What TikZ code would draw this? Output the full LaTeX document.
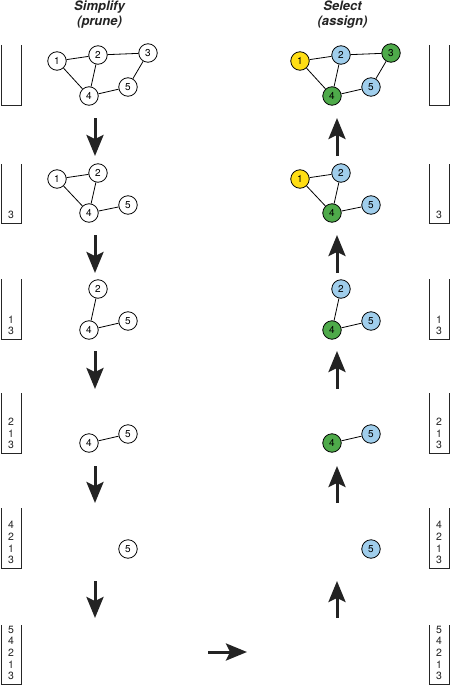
\documentclass[tikz,border=0pt]{standalone}
\usepackage{fontspec}
\setmainfont{TeX Gyre Heros}
\usetikzlibrary{arrows.meta}
\definecolor{vyellow}{RGB}{255,222,20}
\definecolor{vblue}{RGB}{160,206,236}
\definecolor{vgreen}{RGB}{78,170,74}
\definecolor{inkgray}{RGB}{35,35,35}
\tikzset{
  v/.style={circle, draw=black, line width=0.8pt, minimum size=18.5pt, inner sep=0pt,
            fill=white, font=\fontsize{10}{10}\selectfont},
  vy/.style={v, fill=vyellow},
  vb/.style={v, fill=vblue},
  vg/.style={v, fill=vgreen},
  edge/.style={line width=0.8pt, draw=black},
  bigarrow/.style={line width=3pt, draw=inkgray,
                   -{Stealth[length=21pt,width=17pt,inset=4pt]}},
  stackline/.style={line width=0.8pt, draw=black!85},
  stacknum/.style={inner sep=0pt, text=inkgray, font=\fontsize{10.5}{10.5}\selectfont},
  ttl/.style={inner sep=0pt, anchor=base, text=inkgray,
              font=\fontsize{13}{15}\selectfont\bfseries\itshape}
}
\begin{document}
\begin{tikzpicture}[x=1pt,y=-1pt]
\useasboundingbox (0,0) rectangle (450,685);

% titles
\node[ttl] (t1) at (99.5,11) {Simplify};
\node[ttl] (t2) at (99.5,26) {(prune)};
\node[ttl] (t3) at (342.5,11) {Select};
\node[ttl] (t4) at (342.5,26) {(assign)};

% stacks
\foreach \top/\bot in {45/105,164/223,279/339,393/453,508/568,625/684}{
  \draw[stackline] (1,\top) -- (1,\bot) -- (21,\bot) -- (21,\top);
  \draw[stackline] (429,\top) -- (429,\bot) -- (449,\bot) -- (449,\top);
}
\foreach \r/\bot/\items in {2/223/{3}, 3/339/{3,1}, 4/453/{3,1,2}, 5/568/{3,1,2,4}, 6/684/{3,1,2,4,5}}{
  \foreach \d [count=\k] in \items{
    \node[stacknum] (SL\r-\k) at (11,\bot-8-11.6*\k+11.6) {\d};
    \node[stacknum] (SR\r-\k) at (439,\bot-8-11.6*\k+11.6) {\d};
  }
}

% ---------- left column (simplify) ----------
% row 1
\node[v] (a1) at (57,61) {1};
\node[v] (a2) at (98,55) {2};
\node[v] (a3) at (148,53) {3};
\node[v] (a4) at (89,96) {4};
\node[v] (a5) at (128,87) {5};
\draw[edge] (a1) -- (a2); \draw[edge] (a1) -- (a4); \draw[edge] (a2) -- (a4);
\draw[edge] (a2) -- (a3); \draw[edge] (a3) -- (a5); \draw[edge] (a4) -- (a5);
% row 2
\node[v] (b1) at (57,179) {1};
\node[v] (b2) at (98,173) {2};
\node[v] (b4) at (89,213) {4};
\node[v] (b5) at (128,205) {5};
\draw[edge] (b1) -- (b2); \draw[edge] (b1) -- (b4); \draw[edge] (b2) -- (b4);
\draw[edge] (b4) -- (b5);
% row 3
\node[v] (c2) at (98,289) {2};
\node[v] (c4) at (89,330) {4};
\node[v] (c5) at (128,321) {5};
\draw[edge] (c2) -- (c4); \draw[edge] (c4) -- (c5);
% row 4
\node[v] (d4) at (89,443) {4};
\node[v] (d5) at (128,434) {5};
\draw[edge] (d4) -- (d5);
% row 5
\node[v] (e5) at (128,549) {5};

% ---------- right column (select) ----------
\node[vy] (A1) at (300,61) {1};
\node[vb] (A2) at (341,55) {2};
\node[vg] (A3) at (391,53) {3};
\node[vg] (A4) at (332,96) {4};
\node[vb] (A5) at (371,87) {5};
\draw[edge] (A1) -- (A2); \draw[edge] (A1) -- (A4); \draw[edge] (A2) -- (A4);
\draw[edge] (A2) -- (A3); \draw[edge] (A3) -- (A5); \draw[edge] (A4) -- (A5);
\node[vy] (B1) at (300,179) {1};
\node[vb] (B2) at (341,173) {2};
\node[vg] (B4) at (332,213) {4};
\node[vb] (B5) at (371,205) {5};
\draw[edge] (B1) -- (B2); \draw[edge] (B1) -- (B4); \draw[edge] (B2) -- (B4);
\draw[edge] (B4) -- (B5);
\node[vb] (C2) at (341,289) {2};
\node[vg] (C4) at (332,330) {4};
\node[vb] (C5) at (371,321) {5};
\draw[edge] (C2) -- (C4); \draw[edge] (C4) -- (C5);
\node[vg] (D4) at (332,443) {4};
\node[vb] (D5) at (371,434) {5};
\draw[edge] (D4) -- (D5);
\node[vb] (E5) at (371,549) {5};

% ---------- arrows ----------
\foreach \k/\ya/\yb in {1/118/156, 2/235/273, 3/351/389, 4/466/503, 5/581/618}{
  \coordinate (ds\k) at (95,\ya);
  \coordinate (de\k) at (95,\yb);
  \draw[bigarrow] (ds\k) -- (de\k);
  \coordinate (us\k) at (337,\yb);
  \coordinate (ue\k) at (337,\ya);
  \draw[bigarrow] (us\k) -- (ue\k);
}
\coordinate (hs) at (208,652);
\coordinate (he) at (247,652);
\draw[bigarrow] (hs) -- (he);
\end{tikzpicture}
\end{document}
